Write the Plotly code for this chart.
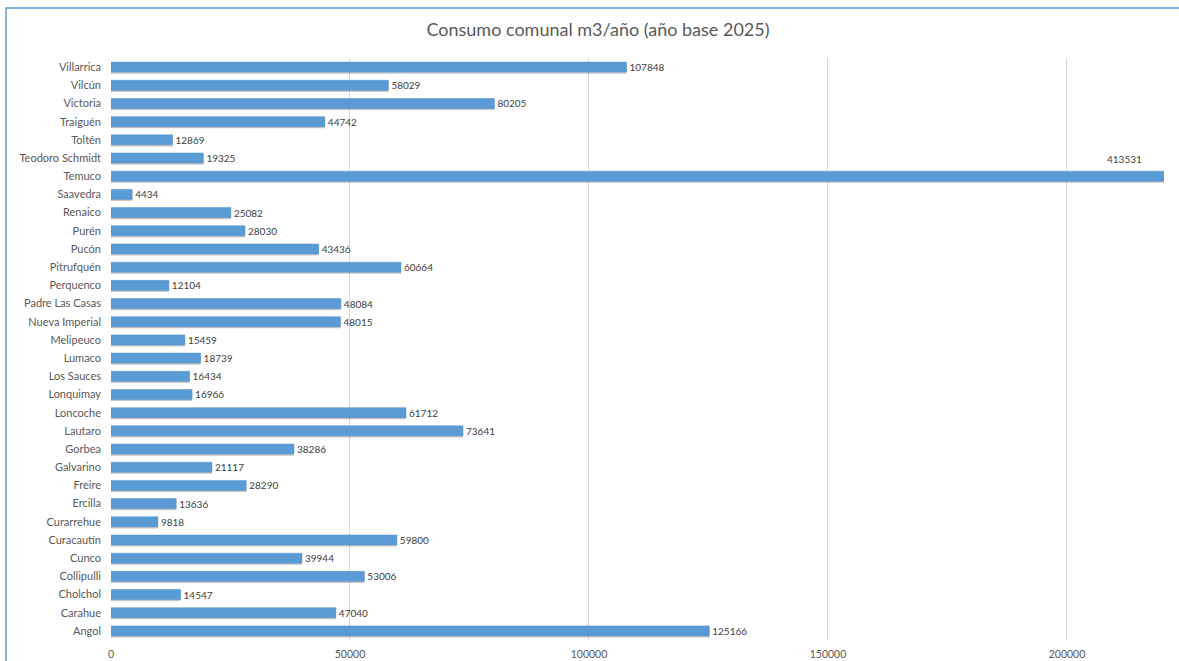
import plotly.graph_objects as go

comunas = ["Angol", "Carahue", "Cholchol", "Collipulli", "Cunco", "Curacautín", "Curarrehue",
           "Ercilla", "Freire", "Galvarino", "Gorbea", "Lautaro", "Loncoche", "Lonquimay",
           "Los Sauces", "Lumaco", "Melipeuco", "Nueva Imperial", "Padre Las Casas", "Perquenco",
           "Pitrufquén", "Pucón", "Purén", "Renaico", "Saavedra", "Temuco", "Teodoro Schmidt",
           "Toltén", "Traiguén", "Victoria", "Vilcún", "Villarrica"]
consumo = [125166, 47040, 14547, 53006, 39944, 59800, 9818,
           13636, 28290, 21117, 38286, 73641, 61712, 16966,
           16434, 18739, 15459, 48015, 48084, 12104,
           60664, 43436, 28030, 25082, 4434, 413531, 19325,
           12869, 44742, 80205, 58029, 107848]

x_max = 220300
x_ticks = [0, 50000, 100000, 150000, 200000]
title = "Consumo comunal m3/año (año base 2025)"

FONT = "Lato"
GREY = "#595959"
BLUE = "#5B9BD5"

labels = [("" if v > x_max else str(v)) for v in consumo]

fig = go.Figure()
# shadow
fig.add_trace(go.Bar(
    x=consumo, y=comunas, orientation="h",
    marker=dict(color="rgba(0,0,0,0.22)", line=dict(width=0)),
    width=0.55, offset=-0.275 - 0.09, hoverinfo="skip", showlegend=False,
))
fig.add_trace(go.Bar(
    x=consumo, y=comunas, orientation="h",
    marker=dict(color=BLUE, line=dict(color="#4F8FCB", width=0.5)),
    width=0.55, offset=-0.275,
    text=labels, textposition="outside", cliponaxis=True, constraintext="none",
    textfont=dict(family=FONT, size=10, color="#404040"),
    showlegend=False,
))

for c, v in zip(comunas, consumo):
    if v > x_max:
        fig.add_annotation(x=x_max, y=c, xref="x", yref="y", text=str(v),
                           showarrow=False, xanchor="right", yanchor="bottom",
                           xshift=-20, yshift=9,
                           font=dict(family=FONT, size=10, color="#404040"))

fig.update_layout(
    width=1179, height=661,
    margin=dict(l=111, r=15, t=58, b=21, autoexpand=False),
    paper_bgcolor="white", plot_bgcolor="white",
    barmode="overlay",
    title=dict(text=title, x=598 / 1179, xanchor="center", xref="container",
               y=1 - 30 / 661, yanchor="middle",
               font=dict(family=FONT, size=18, color=GREY)),
    xaxis=dict(range=[0, x_max], tickvals=x_ticks, ticktext=[str(t) for t in x_ticks],
               showgrid=True, gridcolor="#D9D9D9", gridwidth=1, zeroline=False,
               showline=False, ticks="", ticklabelstandoff=6, automargin=False,
               tickfont=dict(family=FONT, size=10.5, color=GREY)),
    yaxis=dict(showgrid=False, zeroline=False, showline=False, ticks="",
               ticklabelstandoff=9, range=[-0.5, len(comunas) - 0.5], automargin=False,
               tickfont=dict(family=FONT, size=11, color=GREY)),
    shapes=[dict(type="rect", xref="paper", yref="paper",
                 x0=(6 - 111) / 1053, x1=1.2, y0=-0.3, y1=(640 - 8) / 582,
                 line=dict(color=BLUE, width=1.5), layer="below")],
)

fig.write_html("out.html")
